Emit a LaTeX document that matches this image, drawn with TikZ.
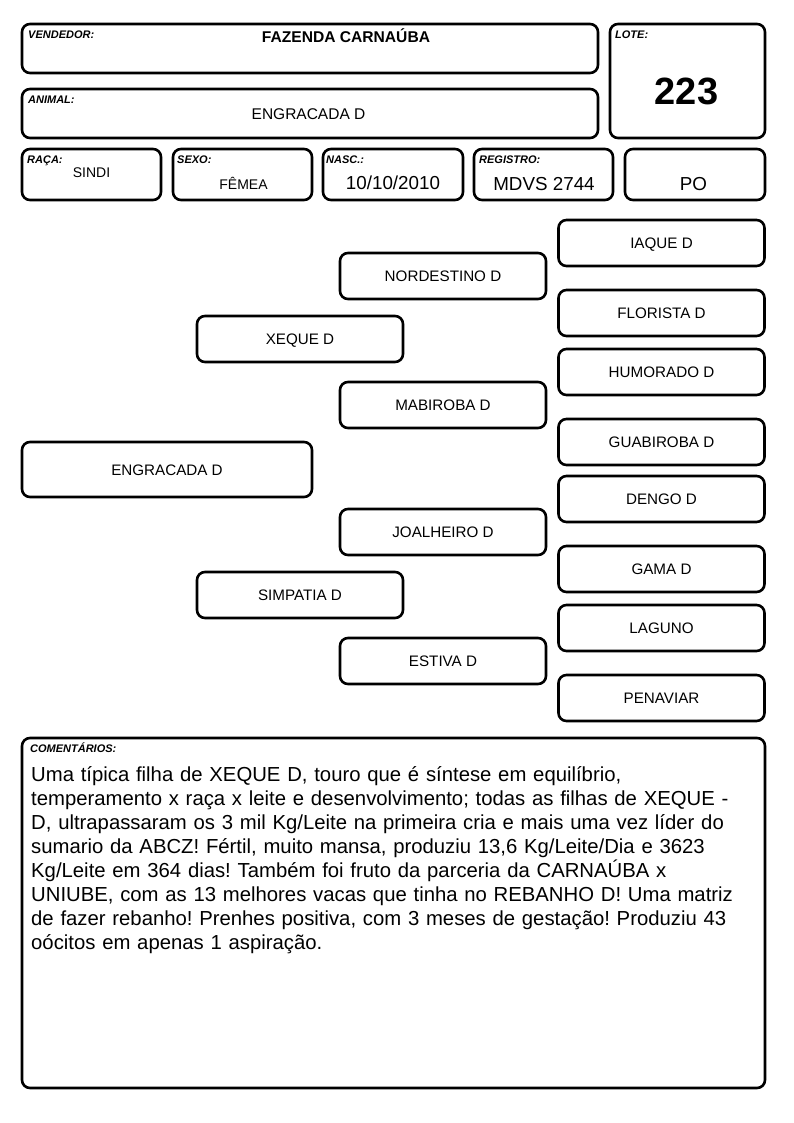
\documentclass[tikz,border=0pt]{standalone}
\usepackage{fontspec}
\setmainfont{Liberation Sans}
\usetikzlibrary{positioning, calc}

\tikzset{
  caixa/.style={draw, line width=2.6pt, rounded corners=8pt, inner sep=0pt},
  rotulo/.style={anchor=base west, inner sep=0pt, font=\fontsize{11}{12}\selectfont\bfseries\itshape},
  valor/.style={anchor=base, inner sep=0pt, font=\fontsize{15.5}{18}\selectfont},
  ped/.style={caixa, minimum width=206pt, minimum height=46pt, text height=11pt, text depth=0pt, font=\fontsize{15.2}{18}\selectfont},
}

\begin{document}
\frenchspacing
\begin{tikzpicture}[x=1pt, y=-1pt]
\useasboundingbox (0,0) rectangle (794,1123);

% Header boxes
\node[caixa, minimum width=576pt, minimum height=49pt] (vendedor) at (310,48.5) {};
\node[caixa, minimum width=576pt, minimum height=49pt] (animal) at (310,113.5) {};
\node[caixa, minimum width=155pt, minimum height=114pt] (lote) at (687.5,81) {};
\node[rotulo] at (28,39) {VENDEDOR:};
\node[rotulo] at (28,103.3) {ANIMAL:};
\node[rotulo] at (615,39) {LOTE:};
\node[valor, font=\fontsize{15.6}{18}\selectfont\bfseries] (vendedorTxt) at (346,42.5) {FAZENDA CARNAÚBA};
\node[valor] (animalTxt) at (308.5,119.3) {ENGRACADA D};
\node[valor, font=\fontsize{38}{40}\selectfont\bfseries] (loteTxt) at (686.5,105) {223};

% Row of data boxes
\foreach \nome/\x/\w in {raca/91.5/139, sexo/242.5/139, nasc/393/140, registro/543.5/139, categoria/695/140}
  \node[caixa, minimum width=\w pt, minimum height=51pt] (\nome) at (\x,174.5) {};
\node[rotulo] at (27,163.5) {RAÇA:};
\node[rotulo] at (177,163.5) {SEXO:};
\node[rotulo] at (326,163.5) {NASC.:};
\node[rotulo] at (479,163.5) {REGISTRO:};
\node[valor, font=\fontsize{14}{16}\selectfont] at (91.5,178) {SINDI};
\node[valor, font=\fontsize{14}{16}\selectfont] at (243.5,189.3) {FÊMEA};
\node[valor, font=\fontsize{18.8}{20}\selectfont] at (393,190) {10/10/2010};
\node[valor, font=\fontsize{18.8}{20}\selectfont] at (544,190.5) {MDVS 2744};
\node[valor, font=\fontsize{18.8}{20}\selectfont] at (693.5,191) {PO};

% Pedigree
\node[ped, minimum width=290pt, minimum height=55pt] (filha) at (167,469.5) {ENGRACADA D};
\node[ped] (pai) at (300,339) {XEQUE D};
\node[ped] (mae) at (300,595) {SIMPATIA D};
\foreach \nome/\y [count=\i] in {NORDESTINO D/276, MABIROBA D/405, JOALHEIRO D/532, ESTIVA D/661}
  \node[ped] (avo\i) at (443,\y) {\nome};
\foreach \nome/\y [count=\i] in {IAQUE D/243, FLORISTA D/313, HUMORADO D/372, GUABIROBA D/442,
    DENGO D/499, GAMA D/569, LAGUNO/628, PENAVIAR/698}
  \node[ped] (bisavo\i) at (661.5,\y) {\nome};

% Comments
\node[caixa, minimum width=743pt, minimum height=350pt] (comentarios) at (393.5,913) {};
\node[rotulo] at (30,752.7) {COMENTÁRIOS:};
\node[anchor=north west, inner sep=0pt, text width=740pt, align=left,
  font=\fontsize{20.3}{24}\selectfont] (comentarioTxt) at (31,764)
  {\strut Uma típica filha de XEQUE D, touro que é síntese em equilíbrio,\\
   temperamento x raça x leite e desenvolvimento; todas as filhas de XEQUE -\\
   D, ultrapassaram os 3 mil Kg/Leite na primeira cria e mais uma vez líder do\\
   sumario da ABCZ! Fértil, muito mansa, produziu 13,6 Kg/Leite/Dia e 3623\\
   Kg/Leite em 364 dias! Também foi fruto da parceria da CARNAÚBA x\\
   UNIUBE, com as 13 melhores vacas que tinha no REBANHO D! Uma matriz\\
   de fazer rebanho! Prenhes positiva, com 3 meses de gestação! Produziu 43\\
   oócitos em apenas 1 aspiração.};
\end{tikzpicture}
\end{document}
